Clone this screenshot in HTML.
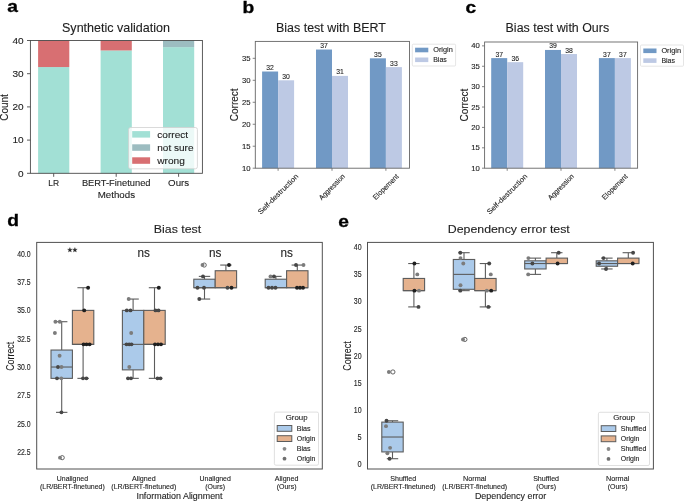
<!DOCTYPE html>
<html><head><meta charset="utf-8"><style>
html,body{margin:0;padding:0;background:#fff;}
svg{display:block;will-change:transform;font-family:"Liberation Sans", sans-serif;}
text{stroke:#1e1e1e;stroke-width:0.12px;}
</style></head><body>
<svg width="685" height="502" viewBox="0 0 685 502">
<text transform="translate(7.30 12.20) scale(1.2 1)" x="0" y="0" font-size="16" font-weight="bold" fill="#000" style="stroke:#000;stroke-width:0.3px">a</text>
<text transform="translate(242.60 13.00) scale(1.2 1)" x="0" y="0" font-size="16" font-weight="bold" fill="#000" style="stroke:#000;stroke-width:0.3px">b</text>
<text transform="translate(465.60 12.90) scale(1.2 1)" x="0" y="0" font-size="16" font-weight="bold" fill="#000" style="stroke:#000;stroke-width:0.3px">c</text>
<text transform="translate(7.20 226.40) scale(1.2 1)" x="0" y="0" font-size="16" font-weight="bold" fill="#000" style="stroke:#000;stroke-width:0.3px">d</text>
<text transform="translate(338.20 226.70) scale(1.2 1)" x="0" y="0" font-size="16" font-weight="bold" fill="#000" style="stroke:#000;stroke-width:0.3px">e</text>
<rect x="38.10" y="67.06" width="31.20" height="106.24" fill="#a2e0d5" stroke="none" stroke-width="0" />
<rect x="38.10" y="40.50" width="31.20" height="26.56" fill="#d86f72" stroke="none" stroke-width="0" />
<rect x="100.60" y="50.46" width="31.20" height="122.84" fill="#a2e0d5" stroke="none" stroke-width="0" />
<rect x="100.60" y="40.50" width="31.20" height="9.96" fill="#d86f72" stroke="none" stroke-width="0" />
<rect x="163.00" y="47.14" width="31.20" height="126.16" fill="#a2e0d5" stroke="none" stroke-width="0" />
<rect x="163.00" y="40.50" width="31.20" height="6.64" fill="#9cbcc0" stroke="none" stroke-width="0" />
<rect x="128.60" y="127.50" width="68.80" height="41.30" fill="rgba(255,255,255,0.8)" stroke="#d0d0d0" stroke-width="0.8" rx="2"/>
<rect x="132.20" y="131.10" width="17.90" height="6.50" fill="#a2e0d5" stroke="none" stroke-width="0" />
<rect x="132.20" y="144.30" width="17.90" height="6.50" fill="#9cbcc0" stroke="none" stroke-width="0" />
<rect x="132.20" y="157.30" width="17.90" height="6.50" fill="#d86f72" stroke="none" stroke-width="0" />
<text x="157.30" y="137.70" font-size="9.7" fill="#1e1e1e" textLength="30.80" lengthAdjust="spacingAndGlyphs" >correct</text>
<text x="157.30" y="150.70" font-size="9.7" fill="#1e1e1e" textLength="36.20" lengthAdjust="spacingAndGlyphs" >not sure</text>
<text x="157.30" y="163.60" font-size="9.7" fill="#1e1e1e" textLength="27.60" lengthAdjust="spacingAndGlyphs" >wrong</text>
<rect x="30.40" y="40.50" width="172.00" height="132.80" fill="none" stroke="#4a4a4a" stroke-width="0.9"/>
<line x1="27.00" y1="173.30" x2="30.40" y2="173.30" stroke="#4a4a4a" stroke-width="0.9" />
<text x="23.70" y="176.50" font-size="9.2" fill="#1e1e1e" text-anchor="end" textLength="5.60" lengthAdjust="spacingAndGlyphs" >0</text>
<line x1="27.00" y1="140.10" x2="30.40" y2="140.10" stroke="#4a4a4a" stroke-width="0.9" />
<text x="23.70" y="143.30" font-size="9.2" fill="#1e1e1e" text-anchor="end" textLength="11.20" lengthAdjust="spacingAndGlyphs" >10</text>
<line x1="27.00" y1="106.90" x2="30.40" y2="106.90" stroke="#4a4a4a" stroke-width="0.9" />
<text x="23.70" y="110.10" font-size="9.2" fill="#1e1e1e" text-anchor="end" textLength="11.20" lengthAdjust="spacingAndGlyphs" >20</text>
<line x1="27.00" y1="73.70" x2="30.40" y2="73.70" stroke="#4a4a4a" stroke-width="0.9" />
<text x="23.70" y="76.90" font-size="9.2" fill="#1e1e1e" text-anchor="end" textLength="11.20" lengthAdjust="spacingAndGlyphs" >30</text>
<line x1="27.00" y1="40.50" x2="30.40" y2="40.50" stroke="#4a4a4a" stroke-width="0.9" />
<text x="23.70" y="43.70" font-size="9.2" fill="#1e1e1e" text-anchor="end" textLength="11.20" lengthAdjust="spacingAndGlyphs" >40</text>
<line x1="53.70" y1="173.30" x2="53.70" y2="176.80" stroke="#4a4a4a" stroke-width="0.9" />
<text x="53.70" y="186.30" font-size="9.7" fill="#1e1e1e" text-anchor="middle" textLength="10.80" lengthAdjust="spacingAndGlyphs" >LR</text>
<line x1="116.20" y1="173.30" x2="116.20" y2="176.80" stroke="#4a4a4a" stroke-width="0.9" />
<text x="116.20" y="186.30" font-size="9.7" fill="#1e1e1e" text-anchor="middle" textLength="68.60" lengthAdjust="spacingAndGlyphs" >BERT-Finetuned</text>
<line x1="178.60" y1="173.30" x2="178.60" y2="176.80" stroke="#4a4a4a" stroke-width="0.9" />
<text x="178.60" y="186.30" font-size="9.7" fill="#1e1e1e" text-anchor="middle" textLength="21.00" lengthAdjust="spacingAndGlyphs" >Ours</text>
<text x="116.40" y="198.30" font-size="9.7" fill="#1e1e1e" text-anchor="middle" textLength="37.30" lengthAdjust="spacingAndGlyphs" >Methods</text>
<text x="8.20" y="107.50" font-size="10.8" fill="#1e1e1e" text-anchor="middle" textLength="26.60" lengthAdjust="spacingAndGlyphs" transform="rotate(-90 8.20 107.50)" >Count</text>
<text x="116.00" y="31.80" font-size="12.8" fill="#1e1e1e" text-anchor="middle" textLength="108.00" lengthAdjust="spacingAndGlyphs" >Synthetic validation</text>
<rect x="262.10" y="71.51" width="16.00" height="96.69" fill="#7199c5" stroke="none" stroke-width="0" />
<rect x="278.10" y="80.30" width="16.00" height="87.90" fill="#bdc9e4" stroke="none" stroke-width="0" />
<text x="270.10" y="70.01" font-size="7.4" fill="#1e1e1e" text-anchor="middle" textLength="7.60" lengthAdjust="spacingAndGlyphs" >32</text>
<text x="286.10" y="78.80" font-size="7.4" fill="#1e1e1e" text-anchor="middle" textLength="7.60" lengthAdjust="spacingAndGlyphs" >30</text>
<rect x="316.00" y="49.53" width="16.00" height="118.67" fill="#7199c5" stroke="none" stroke-width="0" />
<rect x="332.00" y="75.90" width="16.00" height="92.30" fill="#bdc9e4" stroke="none" stroke-width="0" />
<text x="324.00" y="48.03" font-size="7.4" fill="#1e1e1e" text-anchor="middle" textLength="7.60" lengthAdjust="spacingAndGlyphs" >37</text>
<text x="340.00" y="74.40" font-size="7.4" fill="#1e1e1e" text-anchor="middle" textLength="7.60" lengthAdjust="spacingAndGlyphs" >31</text>
<rect x="369.90" y="58.32" width="16.00" height="109.88" fill="#7199c5" stroke="none" stroke-width="0" />
<rect x="385.90" y="67.11" width="16.00" height="101.09" fill="#bdc9e4" stroke="none" stroke-width="0" />
<text x="377.90" y="56.82" font-size="7.4" fill="#1e1e1e" text-anchor="middle" textLength="7.60" lengthAdjust="spacingAndGlyphs" >35</text>
<text x="393.90" y="65.61" font-size="7.4" fill="#1e1e1e" text-anchor="middle" textLength="7.60" lengthAdjust="spacingAndGlyphs" >33</text>
<rect x="255.30" y="41.40" width="154.20" height="126.80" fill="none" stroke="#666666" stroke-width="0.9"/>
<line x1="252.70" y1="168.20" x2="255.30" y2="168.20" stroke="#666666" stroke-width="0.8" />
<text x="250.50" y="170.70" font-size="7.4" fill="#1e1e1e" text-anchor="end" textLength="8.60" lengthAdjust="spacingAndGlyphs" >10</text>
<line x1="252.70" y1="146.22" x2="255.30" y2="146.22" stroke="#666666" stroke-width="0.8" />
<text x="250.50" y="148.72" font-size="7.4" fill="#1e1e1e" text-anchor="end" textLength="8.60" lengthAdjust="spacingAndGlyphs" >15</text>
<line x1="252.70" y1="124.25" x2="255.30" y2="124.25" stroke="#666666" stroke-width="0.8" />
<text x="250.50" y="126.75" font-size="7.4" fill="#1e1e1e" text-anchor="end" textLength="8.60" lengthAdjust="spacingAndGlyphs" >20</text>
<line x1="252.70" y1="102.27" x2="255.30" y2="102.27" stroke="#666666" stroke-width="0.8" />
<text x="250.50" y="104.77" font-size="7.4" fill="#1e1e1e" text-anchor="end" textLength="8.60" lengthAdjust="spacingAndGlyphs" >25</text>
<line x1="252.70" y1="80.30" x2="255.30" y2="80.30" stroke="#666666" stroke-width="0.8" />
<text x="250.50" y="82.80" font-size="7.4" fill="#1e1e1e" text-anchor="end" textLength="8.60" lengthAdjust="spacingAndGlyphs" >30</text>
<line x1="252.70" y1="58.32" x2="255.30" y2="58.32" stroke="#666666" stroke-width="0.8" />
<text x="250.50" y="60.82" font-size="7.4" fill="#1e1e1e" text-anchor="end" textLength="8.60" lengthAdjust="spacingAndGlyphs" >35</text>
<line x1="278.10" y1="168.20" x2="278.10" y2="170.80" stroke="#666666" stroke-width="0.8" />
<g transform="translate(278.10 194.19) rotate(-45)"><text x="0" y="2.3" font-size="7.2" fill="#1e1e1e" text-anchor="middle" textLength="53.70" lengthAdjust="spacingAndGlyphs">Self-destruction</text></g>
<line x1="332.00" y1="168.20" x2="332.00" y2="170.80" stroke="#666666" stroke-width="0.8" />
<g transform="translate(332.00 187.04) rotate(-45)"><text x="0" y="2.3" font-size="7.2" fill="#1e1e1e" text-anchor="middle" textLength="33.50" lengthAdjust="spacingAndGlyphs">Aggression</text></g>
<line x1="385.90" y1="168.20" x2="385.90" y2="170.80" stroke="#666666" stroke-width="0.8" />
<g transform="translate(385.90 186.87) rotate(-45)"><text x="0" y="2.3" font-size="7.2" fill="#1e1e1e" text-anchor="middle" textLength="33.00" lengthAdjust="spacingAndGlyphs">Elopement</text></g>
<text x="238.40" y="104.80" font-size="10.6" fill="#1e1e1e" text-anchor="middle" textLength="32.80" lengthAdjust="spacingAndGlyphs" transform="rotate(-90 238.40 104.80)" >Correct</text>
<text x="330.95" y="32.30" font-size="12.5" fill="#1e1e1e" text-anchor="middle" textLength="109.90" lengthAdjust="spacingAndGlyphs" >Bias test with BERT</text>
<rect x="412.30" y="44.20" width="43.30" height="21.80" fill="#fff" stroke="#dedede" stroke-width="0.8" rx="1"/>
<rect x="415.10" y="47.70" width="13.20" height="4.60" fill="#7199c5" stroke="none" stroke-width="0" />
<rect x="415.10" y="57.50" width="13.20" height="4.60" fill="#bdc9e4" stroke="none" stroke-width="0" />
<text x="433.20" y="52.30" font-size="7.4" fill="#1e1e1e" textLength="19.60" lengthAdjust="spacingAndGlyphs" >Origin</text>
<text x="433.20" y="62.10" font-size="7.4" fill="#1e1e1e" textLength="13.60" lengthAdjust="spacingAndGlyphs" >Bias</text>
<rect x="491.20" y="58.11" width="16.00" height="110.09" fill="#7199c5" stroke="none" stroke-width="0" />
<rect x="507.20" y="62.18" width="16.00" height="106.02" fill="#bdc9e4" stroke="none" stroke-width="0" />
<text x="499.20" y="56.61" font-size="7.4" fill="#1e1e1e" text-anchor="middle" textLength="7.60" lengthAdjust="spacingAndGlyphs" >37</text>
<text x="515.20" y="60.68" font-size="7.4" fill="#1e1e1e" text-anchor="middle" textLength="7.60" lengthAdjust="spacingAndGlyphs" >36</text>
<rect x="545.00" y="49.95" width="16.00" height="118.25" fill="#7199c5" stroke="none" stroke-width="0" />
<rect x="561.00" y="54.03" width="16.00" height="114.17" fill="#bdc9e4" stroke="none" stroke-width="0" />
<text x="553.00" y="48.45" font-size="7.4" fill="#1e1e1e" text-anchor="middle" textLength="7.60" lengthAdjust="spacingAndGlyphs" >39</text>
<text x="569.00" y="52.53" font-size="7.4" fill="#1e1e1e" text-anchor="middle" textLength="7.60" lengthAdjust="spacingAndGlyphs" >38</text>
<rect x="598.90" y="58.11" width="16.00" height="110.09" fill="#7199c5" stroke="none" stroke-width="0" />
<rect x="614.90" y="58.11" width="16.00" height="110.09" fill="#bdc9e4" stroke="none" stroke-width="0" />
<text x="606.90" y="56.61" font-size="7.4" fill="#1e1e1e" text-anchor="middle" textLength="7.60" lengthAdjust="spacingAndGlyphs" >37</text>
<text x="622.90" y="56.61" font-size="7.4" fill="#1e1e1e" text-anchor="middle" textLength="7.60" lengthAdjust="spacingAndGlyphs" >37</text>
<rect x="484.60" y="42.00" width="153.00" height="126.20" fill="none" stroke="#666666" stroke-width="0.9"/>
<line x1="482.00" y1="168.20" x2="484.60" y2="168.20" stroke="#666666" stroke-width="0.8" />
<text x="479.80" y="170.70" font-size="7.4" fill="#1e1e1e" text-anchor="end" textLength="8.60" lengthAdjust="spacingAndGlyphs" >10</text>
<line x1="482.00" y1="147.81" x2="484.60" y2="147.81" stroke="#666666" stroke-width="0.8" />
<text x="479.80" y="150.31" font-size="7.4" fill="#1e1e1e" text-anchor="end" textLength="8.60" lengthAdjust="spacingAndGlyphs" >15</text>
<line x1="482.00" y1="127.42" x2="484.60" y2="127.42" stroke="#666666" stroke-width="0.8" />
<text x="479.80" y="129.92" font-size="7.4" fill="#1e1e1e" text-anchor="end" textLength="8.60" lengthAdjust="spacingAndGlyphs" >20</text>
<line x1="482.00" y1="107.04" x2="484.60" y2="107.04" stroke="#666666" stroke-width="0.8" />
<text x="479.80" y="109.54" font-size="7.4" fill="#1e1e1e" text-anchor="end" textLength="8.60" lengthAdjust="spacingAndGlyphs" >25</text>
<line x1="482.00" y1="86.65" x2="484.60" y2="86.65" stroke="#666666" stroke-width="0.8" />
<text x="479.80" y="89.15" font-size="7.4" fill="#1e1e1e" text-anchor="end" textLength="8.60" lengthAdjust="spacingAndGlyphs" >30</text>
<line x1="482.00" y1="66.26" x2="484.60" y2="66.26" stroke="#666666" stroke-width="0.8" />
<text x="479.80" y="68.76" font-size="7.4" fill="#1e1e1e" text-anchor="end" textLength="8.60" lengthAdjust="spacingAndGlyphs" >35</text>
<line x1="482.00" y1="45.87" x2="484.60" y2="45.87" stroke="#666666" stroke-width="0.8" />
<text x="479.80" y="48.37" font-size="7.4" fill="#1e1e1e" text-anchor="end" textLength="8.60" lengthAdjust="spacingAndGlyphs" >40</text>
<line x1="507.20" y1="168.20" x2="507.20" y2="170.80" stroke="#666666" stroke-width="0.8" />
<g transform="translate(507.20 194.19) rotate(-45)"><text x="0" y="2.3" font-size="7.2" fill="#1e1e1e" text-anchor="middle" textLength="53.70" lengthAdjust="spacingAndGlyphs">Self-destruction</text></g>
<line x1="561.00" y1="168.20" x2="561.00" y2="170.80" stroke="#666666" stroke-width="0.8" />
<g transform="translate(561.00 187.04) rotate(-45)"><text x="0" y="2.3" font-size="7.2" fill="#1e1e1e" text-anchor="middle" textLength="33.50" lengthAdjust="spacingAndGlyphs">Aggression</text></g>
<line x1="614.90" y1="168.20" x2="614.90" y2="170.80" stroke="#666666" stroke-width="0.8" />
<g transform="translate(614.90 186.87) rotate(-45)"><text x="0" y="2.3" font-size="7.2" fill="#1e1e1e" text-anchor="middle" textLength="33.00" lengthAdjust="spacingAndGlyphs">Elopement</text></g>
<text x="467.70" y="105.10" font-size="10.6" fill="#1e1e1e" text-anchor="middle" textLength="32.80" lengthAdjust="spacingAndGlyphs" transform="rotate(-90 467.70 105.10)" >Correct</text>
<text x="557.35" y="32.30" font-size="12.5" fill="#1e1e1e" text-anchor="middle" textLength="103.50" lengthAdjust="spacingAndGlyphs" >Bias test with Ours</text>
<rect x="640.50" y="45.00" width="43.00" height="21.20" fill="#fff" stroke="#dedede" stroke-width="0.8" rx="1"/>
<rect x="643.30" y="48.50" width="13.20" height="4.60" fill="#7199c5" stroke="none" stroke-width="0" />
<rect x="643.30" y="58.30" width="13.20" height="4.60" fill="#bdc9e4" stroke="none" stroke-width="0" />
<text x="661.40" y="53.10" font-size="7.4" fill="#1e1e1e" textLength="19.60" lengthAdjust="spacingAndGlyphs" >Origin</text>
<text x="661.40" y="62.90" font-size="7.4" fill="#1e1e1e" textLength="13.60" lengthAdjust="spacingAndGlyphs" >Bias</text>
<line x1="61.70" y1="378.36" x2="61.70" y2="412.35" stroke="#5c5c5c" stroke-width="1.1" />
<line x1="56.00" y1="412.35" x2="67.40" y2="412.35" stroke="#5c5c5c" stroke-width="1.1" />
<line x1="61.70" y1="350.04" x2="61.70" y2="321.71" stroke="#5c5c5c" stroke-width="1.1" />
<line x1="56.00" y1="321.71" x2="67.40" y2="321.71" stroke="#5c5c5c" stroke-width="1.1" />
<rect x="51.00" y="350.04" width="21.40" height="28.32" fill="#abcaea" stroke="#5c5c5c" stroke-width="1.1" />
<line x1="51.00" y1="367.03" x2="72.40" y2="367.03" stroke="#5c5c5c" stroke-width="1.1" />
<line x1="83.10" y1="344.37" x2="83.10" y2="378.36" stroke="#5c5c5c" stroke-width="1.1" />
<line x1="77.40" y1="378.36" x2="88.80" y2="378.36" stroke="#5c5c5c" stroke-width="1.1" />
<line x1="83.10" y1="310.38" x2="83.10" y2="287.72" stroke="#5c5c5c" stroke-width="1.1" />
<line x1="77.40" y1="287.72" x2="88.80" y2="287.72" stroke="#5c5c5c" stroke-width="1.1" />
<rect x="72.40" y="310.38" width="21.40" height="33.99" fill="#e5b28e" stroke="#5c5c5c" stroke-width="1.1" />
<line x1="72.40" y1="344.37" x2="93.80" y2="344.37" stroke="#5c5c5c" stroke-width="1.1" />
<line x1="133.10" y1="369.86" x2="133.10" y2="378.36" stroke="#5c5c5c" stroke-width="1.1" />
<line x1="127.40" y1="378.36" x2="138.80" y2="378.36" stroke="#5c5c5c" stroke-width="1.1" />
<line x1="133.10" y1="310.38" x2="133.10" y2="299.05" stroke="#5c5c5c" stroke-width="1.1" />
<line x1="127.40" y1="299.05" x2="138.80" y2="299.05" stroke="#5c5c5c" stroke-width="1.1" />
<rect x="122.40" y="310.38" width="21.40" height="59.48" fill="#abcaea" stroke="#5c5c5c" stroke-width="1.1" />
<line x1="122.40" y1="344.37" x2="143.80" y2="344.37" stroke="#5c5c5c" stroke-width="1.1" />
<line x1="154.50" y1="344.37" x2="154.50" y2="378.36" stroke="#5c5c5c" stroke-width="1.1" />
<line x1="148.80" y1="378.36" x2="160.20" y2="378.36" stroke="#5c5c5c" stroke-width="1.1" />
<line x1="154.50" y1="310.38" x2="154.50" y2="287.72" stroke="#5c5c5c" stroke-width="1.1" />
<line x1="148.80" y1="287.72" x2="160.20" y2="287.72" stroke="#5c5c5c" stroke-width="1.1" />
<rect x="143.80" y="310.38" width="21.40" height="33.99" fill="#e5b28e" stroke="#5c5c5c" stroke-width="1.1" />
<line x1="143.80" y1="344.37" x2="165.20" y2="344.37" stroke="#5c5c5c" stroke-width="1.1" />
<line x1="204.50" y1="287.72" x2="204.50" y2="299.05" stroke="#5c5c5c" stroke-width="1.1" />
<line x1="198.80" y1="299.05" x2="210.20" y2="299.05" stroke="#5c5c5c" stroke-width="1.1" />
<line x1="204.50" y1="279.22" x2="204.50" y2="276.39" stroke="#5c5c5c" stroke-width="1.1" />
<line x1="198.80" y1="276.39" x2="210.20" y2="276.39" stroke="#5c5c5c" stroke-width="1.1" />
<rect x="193.80" y="279.22" width="21.40" height="8.50" fill="#abcaea" stroke="#5c5c5c" stroke-width="1.1" />
<line x1="193.80" y1="287.72" x2="215.20" y2="287.72" stroke="#5c5c5c" stroke-width="1.1" />
<line x1="225.90" y1="270.73" x2="225.90" y2="265.06" stroke="#5c5c5c" stroke-width="1.1" />
<line x1="220.20" y1="265.06" x2="231.60" y2="265.06" stroke="#5c5c5c" stroke-width="1.1" />
<rect x="215.20" y="270.73" width="21.40" height="17.00" fill="#e5b28e" stroke="#5c5c5c" stroke-width="1.1" />
<line x1="215.20" y1="287.72" x2="236.60" y2="287.72" stroke="#5c5c5c" stroke-width="1.1" />
<line x1="275.90" y1="279.22" x2="275.90" y2="276.39" stroke="#5c5c5c" stroke-width="1.1" />
<line x1="270.20" y1="276.39" x2="281.60" y2="276.39" stroke="#5c5c5c" stroke-width="1.1" />
<rect x="265.20" y="279.22" width="21.40" height="8.50" fill="#abcaea" stroke="#5c5c5c" stroke-width="1.1" />
<line x1="265.20" y1="287.72" x2="286.60" y2="287.72" stroke="#5c5c5c" stroke-width="1.1" />
<line x1="297.30" y1="270.73" x2="297.30" y2="265.06" stroke="#5c5c5c" stroke-width="1.1" />
<line x1="291.60" y1="265.06" x2="303.00" y2="265.06" stroke="#5c5c5c" stroke-width="1.1" />
<rect x="286.60" y="270.73" width="21.40" height="17.00" fill="#e5b28e" stroke="#5c5c5c" stroke-width="1.1" />
<line x1="286.60" y1="287.72" x2="308.00" y2="287.72" stroke="#5c5c5c" stroke-width="1.1" />
<circle cx="62.20" cy="457.67" r="2.10" fill="none" stroke="#555555" stroke-width="0.9" />
<circle cx="204.20" cy="265.06" r="2.10" fill="none" stroke="#555555" stroke-width="0.9" />
<circle cx="55.40" cy="321.71" r="1.95" fill="#7c7c7c" stroke="none" stroke-width="0" />
<circle cx="59.80" cy="321.71" r="1.95" fill="#7c7c7c" stroke="none" stroke-width="0" />
<circle cx="54.90" cy="333.04" r="1.95" fill="#7c7c7c" stroke="none" stroke-width="0" />
<circle cx="59.60" cy="355.70" r="1.95" fill="#7c7c7c" stroke="none" stroke-width="0" />
<circle cx="58.00" cy="367.03" r="1.95" fill="#474747" stroke="none" stroke-width="0" />
<circle cx="61.50" cy="367.03" r="1.95" fill="#7c7c7c" stroke="none" stroke-width="0" />
<circle cx="57.00" cy="378.36" r="1.95" fill="#474747" stroke="none" stroke-width="0" />
<circle cx="61.30" cy="378.36" r="1.95" fill="#7c7c7c" stroke="none" stroke-width="0" />
<circle cx="61.40" cy="412.35" r="1.95" fill="#474747" stroke="none" stroke-width="0" />
<circle cx="60.00" cy="457.67" r="1.95" fill="#7c7c7c" stroke="none" stroke-width="0" />
<circle cx="128.70" cy="299.05" r="1.95" fill="#7c7c7c" stroke="none" stroke-width="0" />
<circle cx="126.80" cy="310.38" r="1.95" fill="#474747" stroke="none" stroke-width="0" />
<circle cx="130.50" cy="310.38" r="1.95" fill="#474747" stroke="none" stroke-width="0" />
<circle cx="131.20" cy="333.04" r="1.95" fill="#7c7c7c" stroke="none" stroke-width="0" />
<circle cx="129.30" cy="367.03" r="1.95" fill="#7c7c7c" stroke="none" stroke-width="0" />
<circle cx="128.00" cy="378.36" r="1.95" fill="#474747" stroke="none" stroke-width="0" />
<circle cx="131.00" cy="378.36" r="1.95" fill="#474747" stroke="none" stroke-width="0" />
<circle cx="126.50" cy="344.37" r="1.95" fill="#474747" stroke="none" stroke-width="0" />
<circle cx="129.20" cy="344.37" r="1.95" fill="#474747" stroke="none" stroke-width="0" />
<circle cx="131.50" cy="344.37" r="1.95" fill="#474747" stroke="none" stroke-width="0" />
<circle cx="203.00" cy="276.39" r="1.95" fill="#474747" stroke="none" stroke-width="0" />
<circle cx="202.50" cy="265.06" r="1.95" fill="#7c7c7c" stroke="none" stroke-width="0" />
<circle cx="197.50" cy="287.72" r="1.95" fill="#474747" stroke="none" stroke-width="0" />
<circle cx="204.00" cy="287.72" r="1.95" fill="#474747" stroke="none" stroke-width="0" />
<circle cx="199.30" cy="299.05" r="1.95" fill="#474747" stroke="none" stroke-width="0" />
<circle cx="270.50" cy="276.39" r="1.95" fill="#7c7c7c" stroke="none" stroke-width="0" />
<circle cx="274.00" cy="276.39" r="1.95" fill="#474747" stroke="none" stroke-width="0" />
<circle cx="268.50" cy="287.72" r="1.95" fill="#474747" stroke="none" stroke-width="0" />
<circle cx="272.00" cy="287.72" r="1.95" fill="#474747" stroke="none" stroke-width="0" />
<circle cx="275.50" cy="287.72" r="1.95" fill="#474747" stroke="none" stroke-width="0" />
<circle cx="88.10" cy="287.72" r="1.95" fill="#1f1f1f" stroke="none" stroke-width="0" />
<circle cx="84.20" cy="310.38" r="1.95" fill="#1f1f1f" stroke="none" stroke-width="0" />
<circle cx="83.60" cy="344.37" r="1.95" fill="#1f1f1f" stroke="none" stroke-width="0" />
<circle cx="86.50" cy="344.37" r="1.95" fill="#1f1f1f" stroke="none" stroke-width="0" />
<circle cx="89.60" cy="344.37" r="1.95" fill="#1f1f1f" stroke="none" stroke-width="0" />
<circle cx="83.00" cy="378.36" r="1.95" fill="#474747" stroke="none" stroke-width="0" />
<circle cx="86.40" cy="378.36" r="1.95" fill="#474747" stroke="none" stroke-width="0" />
<circle cx="158.80" cy="287.72" r="1.95" fill="#1f1f1f" stroke="none" stroke-width="0" />
<circle cx="155.50" cy="310.38" r="1.95" fill="#474747" stroke="none" stroke-width="0" />
<circle cx="158.50" cy="310.38" r="1.95" fill="#474747" stroke="none" stroke-width="0" />
<circle cx="155.00" cy="344.37" r="1.95" fill="#1f1f1f" stroke="none" stroke-width="0" />
<circle cx="158.00" cy="344.37" r="1.95" fill="#1f1f1f" stroke="none" stroke-width="0" />
<circle cx="161.00" cy="344.37" r="1.95" fill="#1f1f1f" stroke="none" stroke-width="0" />
<circle cx="157.50" cy="378.36" r="1.95" fill="#474747" stroke="none" stroke-width="0" />
<circle cx="160.50" cy="378.36" r="1.95" fill="#474747" stroke="none" stroke-width="0" />
<circle cx="229.00" cy="265.06" r="1.95" fill="#1f1f1f" stroke="none" stroke-width="0" />
<circle cx="227.50" cy="287.72" r="1.95" fill="#474747" stroke="none" stroke-width="0" />
<circle cx="231.50" cy="287.72" r="1.95" fill="#1f1f1f" stroke="none" stroke-width="0" />
<circle cx="296.00" cy="265.06" r="1.95" fill="#474747" stroke="none" stroke-width="0" />
<circle cx="303.50" cy="265.06" r="1.95" fill="#7c7c7c" stroke="none" stroke-width="0" />
<circle cx="297.00" cy="287.72" r="1.95" fill="#1f1f1f" stroke="none" stroke-width="0" />
<circle cx="300.00" cy="287.72" r="1.95" fill="#1f1f1f" stroke="none" stroke-width="0" />
<circle cx="303.00" cy="287.72" r="1.95" fill="#1f1f1f" stroke="none" stroke-width="0" />
<rect x="36.70" y="242.40" width="285.60" height="226.60" fill="none" stroke="#505050" stroke-width="1.0"/>
<text x="30.60" y="455.00" font-size="8.6" fill="#1e1e1e" text-anchor="end" textLength="13.40" lengthAdjust="spacingAndGlyphs" >22.5</text>
<text x="30.60" y="426.68" font-size="8.6" fill="#1e1e1e" text-anchor="end" textLength="13.40" lengthAdjust="spacingAndGlyphs" >25.0</text>
<text x="30.60" y="398.36" font-size="8.6" fill="#1e1e1e" text-anchor="end" textLength="13.40" lengthAdjust="spacingAndGlyphs" >27.5</text>
<text x="30.60" y="370.03" font-size="8.6" fill="#1e1e1e" text-anchor="end" textLength="13.40" lengthAdjust="spacingAndGlyphs" >30.0</text>
<text x="30.60" y="341.70" font-size="8.6" fill="#1e1e1e" text-anchor="end" textLength="13.40" lengthAdjust="spacingAndGlyphs" >32.5</text>
<text x="30.60" y="313.38" font-size="8.6" fill="#1e1e1e" text-anchor="end" textLength="13.40" lengthAdjust="spacingAndGlyphs" >35.0</text>
<text x="30.60" y="285.06" font-size="8.6" fill="#1e1e1e" text-anchor="end" textLength="13.40" lengthAdjust="spacingAndGlyphs" >37.5</text>
<text x="30.60" y="256.73" font-size="8.6" fill="#1e1e1e" text-anchor="end" textLength="13.40" lengthAdjust="spacingAndGlyphs" >40.0</text>
<polygon points="69.90,247.55 70.52,249.15 72.23,249.24 70.90,250.32 71.34,251.98 69.90,251.05 68.46,251.98 68.90,250.32 67.57,249.24 69.28,249.15" fill="#262626" stroke="#262626" stroke-width="0.3"/>
<polygon points="74.90,247.55 75.52,249.15 77.23,249.24 75.90,250.32 76.34,251.98 74.90,251.05 73.46,251.98 73.90,250.32 72.57,249.24 74.28,249.15" fill="#262626" stroke="#262626" stroke-width="0.3"/>
<text x="143.80" y="257.00" font-size="13.5" fill="#1e1e1e" text-anchor="middle" textLength="12.40" lengthAdjust="spacingAndGlyphs" >ns</text>
<text x="215.20" y="257.00" font-size="13.5" fill="#1e1e1e" text-anchor="middle" textLength="12.40" lengthAdjust="spacingAndGlyphs" >ns</text>
<text x="286.60" y="257.00" font-size="13.5" fill="#1e1e1e" text-anchor="middle" textLength="12.40" lengthAdjust="spacingAndGlyphs" >ns</text>
<text x="72.40" y="480.80" font-size="7.6" fill="#1e1e1e" text-anchor="middle" textLength="31.30" lengthAdjust="spacingAndGlyphs" >Unaligned</text>
<text x="72.40" y="488.60" font-size="7.6" fill="#1e1e1e" text-anchor="middle" textLength="64.90" lengthAdjust="spacingAndGlyphs" >(LR/BERT-finetuned)</text>
<text x="143.80" y="480.80" font-size="7.6" fill="#1e1e1e" text-anchor="middle" textLength="23.70" lengthAdjust="spacingAndGlyphs" >Aligned</text>
<text x="143.80" y="488.60" font-size="7.6" fill="#1e1e1e" text-anchor="middle" textLength="64.90" lengthAdjust="spacingAndGlyphs" >(LR/BERT-finetuned)</text>
<text x="215.20" y="480.80" font-size="7.6" fill="#1e1e1e" text-anchor="middle" textLength="31.30" lengthAdjust="spacingAndGlyphs" >Unaligned</text>
<text x="215.20" y="488.60" font-size="7.6" fill="#1e1e1e" text-anchor="middle" textLength="19.80" lengthAdjust="spacingAndGlyphs" >(Ours)</text>
<text x="286.60" y="480.80" font-size="7.6" fill="#1e1e1e" text-anchor="middle" textLength="23.70" lengthAdjust="spacingAndGlyphs" >Aligned</text>
<text x="286.60" y="488.60" font-size="7.6" fill="#1e1e1e" text-anchor="middle" textLength="19.80" lengthAdjust="spacingAndGlyphs" >(Ours)</text>
<text x="179.50" y="498.80" font-size="9.4" fill="#1e1e1e" text-anchor="middle" textLength="86.10" lengthAdjust="spacingAndGlyphs" >Information Alignment</text>
<text x="14.00" y="356.30" font-size="10.4" fill="#1e1e1e" text-anchor="middle" textLength="29.00" lengthAdjust="spacingAndGlyphs" transform="rotate(-90 14.00 356.30)" >Correct</text>
<text x="177.50" y="232.70" font-size="11.4" fill="#1e1e1e" text-anchor="middle" textLength="47.30" lengthAdjust="spacingAndGlyphs" >Bias test</text>
<rect x="274.40" y="412.10" width="44.10" height="53.10" fill="#fff" stroke="#d8d8d8" stroke-width="0.8" rx="1.5"/>
<text x="296.65" y="420.20" font-size="8.0" fill="#1e1e1e" text-anchor="middle" textLength="21.80" lengthAdjust="spacingAndGlyphs" >Group</text>
<rect x="277.20" y="425.50" width="14.60" height="5.80" fill="#abcaea" stroke="#5c5c5c" stroke-width="1.0" />
<rect x="277.20" y="435.70" width="14.60" height="5.80" fill="#e5b28e" stroke="#5c5c5c" stroke-width="1.0" />
<circle cx="284.50" cy="448.80" r="1.90" fill="#8a8a8a" stroke="none" stroke-width="0" />
<circle cx="284.50" cy="458.70" r="1.90" fill="#707070" stroke="none" stroke-width="0" />
<text x="296.80" y="430.90" font-size="7.2" fill="#1e1e1e" textLength="13.80" lengthAdjust="spacingAndGlyphs" >Bias</text>
<text x="296.80" y="441.10" font-size="7.2" fill="#1e1e1e" textLength="18.60" lengthAdjust="spacingAndGlyphs" >Origin</text>
<text x="296.80" y="451.00" font-size="7.2" fill="#1e1e1e" textLength="13.80" lengthAdjust="spacingAndGlyphs" >Bias</text>
<text x="296.80" y="460.90" font-size="7.2" fill="#1e1e1e" textLength="18.60" lengthAdjust="spacingAndGlyphs" >Origin</text>
<line x1="392.50" y1="451.92" x2="392.50" y2="458.70" stroke="#5c5c5c" stroke-width="1.1" />
<line x1="386.80" y1="458.70" x2="398.20" y2="458.70" stroke="#5c5c5c" stroke-width="1.1" />
<line x1="392.50" y1="422.11" x2="392.50" y2="420.75" stroke="#5c5c5c" stroke-width="1.1" />
<line x1="386.80" y1="420.75" x2="398.20" y2="420.75" stroke="#5c5c5c" stroke-width="1.1" />
<rect x="381.80" y="422.11" width="21.40" height="29.82" fill="#abcaea" stroke="#5c5c5c" stroke-width="1.1" />
<line x1="381.80" y1="437.02" x2="403.20" y2="437.02" stroke="#5c5c5c" stroke-width="1.1" />
<line x1="413.90" y1="290.65" x2="413.90" y2="306.91" stroke="#5c5c5c" stroke-width="1.1" />
<line x1="408.20" y1="306.91" x2="419.60" y2="306.91" stroke="#5c5c5c" stroke-width="1.1" />
<line x1="413.90" y1="278.45" x2="413.90" y2="263.54" stroke="#5c5c5c" stroke-width="1.1" />
<line x1="408.20" y1="263.54" x2="419.60" y2="263.54" stroke="#5c5c5c" stroke-width="1.1" />
<rect x="403.20" y="278.45" width="21.40" height="12.20" fill="#e5b28e" stroke="#5c5c5c" stroke-width="1.1" />
<line x1="403.20" y1="290.65" x2="424.60" y2="290.65" stroke="#5c5c5c" stroke-width="1.1" />
<line x1="464.00" y1="289.29" x2="464.00" y2="290.65" stroke="#5c5c5c" stroke-width="1.1" />
<line x1="458.30" y1="290.65" x2="469.70" y2="290.65" stroke="#5c5c5c" stroke-width="1.1" />
<line x1="464.00" y1="259.48" x2="464.00" y2="252.70" stroke="#5c5c5c" stroke-width="1.1" />
<line x1="458.30" y1="252.70" x2="469.70" y2="252.70" stroke="#5c5c5c" stroke-width="1.1" />
<rect x="453.30" y="259.48" width="21.40" height="29.82" fill="#abcaea" stroke="#5c5c5c" stroke-width="1.1" />
<line x1="453.30" y1="274.38" x2="474.70" y2="274.38" stroke="#5c5c5c" stroke-width="1.1" />
<line x1="485.40" y1="290.65" x2="485.40" y2="306.91" stroke="#5c5c5c" stroke-width="1.1" />
<line x1="479.70" y1="306.91" x2="491.10" y2="306.91" stroke="#5c5c5c" stroke-width="1.1" />
<line x1="485.40" y1="278.45" x2="485.40" y2="263.54" stroke="#5c5c5c" stroke-width="1.1" />
<line x1="479.70" y1="263.54" x2="491.10" y2="263.54" stroke="#5c5c5c" stroke-width="1.1" />
<rect x="474.70" y="278.45" width="21.40" height="12.20" fill="#e5b28e" stroke="#5c5c5c" stroke-width="1.1" />
<line x1="474.70" y1="290.65" x2="496.10" y2="290.65" stroke="#5c5c5c" stroke-width="1.1" />
<line x1="535.40" y1="268.96" x2="535.40" y2="274.38" stroke="#5c5c5c" stroke-width="1.1" />
<line x1="529.70" y1="274.38" x2="541.10" y2="274.38" stroke="#5c5c5c" stroke-width="1.1" />
<line x1="535.40" y1="260.83" x2="535.40" y2="258.12" stroke="#5c5c5c" stroke-width="1.1" />
<line x1="529.70" y1="258.12" x2="541.10" y2="258.12" stroke="#5c5c5c" stroke-width="1.1" />
<rect x="524.70" y="260.83" width="21.40" height="8.13" fill="#abcaea" stroke="#5c5c5c" stroke-width="1.1" />
<line x1="524.70" y1="263.54" x2="546.10" y2="263.54" stroke="#5c5c5c" stroke-width="1.1" />
<line x1="556.80" y1="258.12" x2="556.80" y2="252.70" stroke="#5c5c5c" stroke-width="1.1" />
<line x1="551.10" y1="252.70" x2="562.50" y2="252.70" stroke="#5c5c5c" stroke-width="1.1" />
<rect x="546.10" y="258.12" width="21.40" height="5.42" fill="#e5b28e" stroke="#5c5c5c" stroke-width="1.1" />
<line x1="546.10" y1="263.54" x2="567.50" y2="263.54" stroke="#5c5c5c" stroke-width="1.1" />
<line x1="606.90" y1="266.25" x2="606.90" y2="268.96" stroke="#5c5c5c" stroke-width="1.1" />
<line x1="601.20" y1="268.96" x2="612.60" y2="268.96" stroke="#5c5c5c" stroke-width="1.1" />
<line x1="606.90" y1="260.83" x2="606.90" y2="258.12" stroke="#5c5c5c" stroke-width="1.1" />
<line x1="601.20" y1="258.12" x2="612.60" y2="258.12" stroke="#5c5c5c" stroke-width="1.1" />
<rect x="596.20" y="260.83" width="21.40" height="5.42" fill="#abcaea" stroke="#5c5c5c" stroke-width="1.1" />
<line x1="596.20" y1="263.54" x2="617.60" y2="263.54" stroke="#5c5c5c" stroke-width="1.1" />
<line x1="628.30" y1="258.12" x2="628.30" y2="252.70" stroke="#5c5c5c" stroke-width="1.1" />
<line x1="622.60" y1="252.70" x2="634.00" y2="252.70" stroke="#5c5c5c" stroke-width="1.1" />
<rect x="617.60" y="258.12" width="21.40" height="5.42" fill="#e5b28e" stroke="#5c5c5c" stroke-width="1.1" />
<line x1="617.60" y1="263.54" x2="639.00" y2="263.54" stroke="#5c5c5c" stroke-width="1.1" />
<circle cx="392.90" cy="371.96" r="2.10" fill="none" stroke="#555555" stroke-width="0.9" />
<circle cx="464.90" cy="339.44" r="2.10" fill="none" stroke="#555555" stroke-width="0.9" />
<circle cx="386.50" cy="420.75" r="1.95" fill="#474747" stroke="none" stroke-width="0" />
<circle cx="386.00" cy="426.17" r="1.95" fill="#7c7c7c" stroke="none" stroke-width="0" />
<circle cx="390.10" cy="447.86" r="1.95" fill="#7c7c7c" stroke="none" stroke-width="0" />
<circle cx="387.40" cy="453.28" r="1.95" fill="#7c7c7c" stroke="none" stroke-width="0" />
<circle cx="389.60" cy="458.70" r="1.95" fill="#474747" stroke="none" stroke-width="0" />
<circle cx="388.90" cy="371.96" r="1.95" fill="#7c7c7c" stroke="none" stroke-width="0" />
<circle cx="460.30" cy="252.70" r="1.95" fill="#474747" stroke="none" stroke-width="0" />
<circle cx="460.50" cy="258.12" r="1.95" fill="#7c7c7c" stroke="none" stroke-width="0" />
<circle cx="463.30" cy="263.54" r="1.95" fill="#7c7c7c" stroke="none" stroke-width="0" />
<circle cx="460.50" cy="285.23" r="1.95" fill="#7c7c7c" stroke="none" stroke-width="0" />
<circle cx="460.30" cy="290.65" r="1.95" fill="#474747" stroke="none" stroke-width="0" />
<circle cx="463.00" cy="339.44" r="1.95" fill="#7c7c7c" stroke="none" stroke-width="0" />
<circle cx="528.40" cy="258.12" r="1.95" fill="#7c7c7c" stroke="none" stroke-width="0" />
<circle cx="532.40" cy="263.54" r="1.95" fill="#474747" stroke="none" stroke-width="0" />
<circle cx="528.20" cy="274.38" r="1.95" fill="#7c7c7c" stroke="none" stroke-width="0" />
<circle cx="603.50" cy="258.12" r="1.95" fill="#474747" stroke="none" stroke-width="0" />
<circle cx="599.10" cy="263.54" r="1.95" fill="#474747" stroke="none" stroke-width="0" />
<circle cx="606.00" cy="268.96" r="1.95" fill="#474747" stroke="none" stroke-width="0" />
<circle cx="414.40" cy="263.54" r="1.95" fill="#1f1f1f" stroke="none" stroke-width="0" />
<circle cx="417.30" cy="274.38" r="1.95" fill="#7c7c7c" stroke="none" stroke-width="0" />
<circle cx="414.40" cy="290.65" r="1.95" fill="#1f1f1f" stroke="none" stroke-width="0" />
<circle cx="419.00" cy="290.65" r="1.95" fill="#7c7c7c" stroke="none" stroke-width="0" />
<circle cx="418.50" cy="306.91" r="1.95" fill="#474747" stroke="none" stroke-width="0" />
<circle cx="489.20" cy="263.54" r="1.95" fill="#474747" stroke="none" stroke-width="0" />
<circle cx="490.80" cy="274.38" r="1.95" fill="#7c7c7c" stroke="none" stroke-width="0" />
<circle cx="486.80" cy="290.65" r="1.95" fill="#7c7c7c" stroke="none" stroke-width="0" />
<circle cx="491.20" cy="290.65" r="1.95" fill="#1f1f1f" stroke="none" stroke-width="0" />
<circle cx="488.40" cy="306.91" r="1.95" fill="#474747" stroke="none" stroke-width="0" />
<circle cx="558.70" cy="252.70" r="1.95" fill="#474747" stroke="none" stroke-width="0" />
<circle cx="557.60" cy="263.54" r="1.95" fill="#1f1f1f" stroke="none" stroke-width="0" />
<circle cx="633.10" cy="252.70" r="1.95" fill="#474747" stroke="none" stroke-width="0" />
<circle cx="632.70" cy="263.54" r="1.95" fill="#1f1f1f" stroke="none" stroke-width="0" />
<rect x="367.50" y="242.40" width="285.90" height="226.60" fill="none" stroke="#505050" stroke-width="1.0"/>
<text x="361.60" y="467.12" font-size="8.6" fill="#1e1e1e" text-anchor="end" textLength="4.10" lengthAdjust="spacingAndGlyphs" >0</text>
<text x="361.60" y="440.02" font-size="8.6" fill="#1e1e1e" text-anchor="end" textLength="4.10" lengthAdjust="spacingAndGlyphs" >5</text>
<text x="361.60" y="412.91" font-size="8.6" fill="#1e1e1e" text-anchor="end" textLength="7.80" lengthAdjust="spacingAndGlyphs" >10</text>
<text x="361.60" y="385.81" font-size="8.6" fill="#1e1e1e" text-anchor="end" textLength="7.80" lengthAdjust="spacingAndGlyphs" >15</text>
<text x="361.60" y="358.70" font-size="8.6" fill="#1e1e1e" text-anchor="end" textLength="7.80" lengthAdjust="spacingAndGlyphs" >20</text>
<text x="361.60" y="331.59" font-size="8.6" fill="#1e1e1e" text-anchor="end" textLength="7.80" lengthAdjust="spacingAndGlyphs" >25</text>
<text x="361.60" y="304.49" font-size="8.6" fill="#1e1e1e" text-anchor="end" textLength="7.80" lengthAdjust="spacingAndGlyphs" >30</text>
<text x="361.60" y="277.38" font-size="8.6" fill="#1e1e1e" text-anchor="end" textLength="7.80" lengthAdjust="spacingAndGlyphs" >35</text>
<text x="361.60" y="250.28" font-size="8.6" fill="#1e1e1e" text-anchor="end" textLength="7.80" lengthAdjust="spacingAndGlyphs" >40</text>
<text x="403.20" y="480.80" font-size="7.6" fill="#1e1e1e" text-anchor="middle" textLength="25.90" lengthAdjust="spacingAndGlyphs" >Shuffled</text>
<text x="403.20" y="488.60" font-size="7.6" fill="#1e1e1e" text-anchor="middle" textLength="64.90" lengthAdjust="spacingAndGlyphs" >(LR/BERT-finetuned)</text>
<text x="474.70" y="480.80" font-size="7.6" fill="#1e1e1e" text-anchor="middle" textLength="23.40" lengthAdjust="spacingAndGlyphs" >Normal</text>
<text x="474.70" y="488.60" font-size="7.6" fill="#1e1e1e" text-anchor="middle" textLength="64.90" lengthAdjust="spacingAndGlyphs" >(LR/BERT-finetuned)</text>
<text x="546.10" y="480.80" font-size="7.6" fill="#1e1e1e" text-anchor="middle" textLength="25.90" lengthAdjust="spacingAndGlyphs" >Shuffled</text>
<text x="546.10" y="488.60" font-size="7.6" fill="#1e1e1e" text-anchor="middle" textLength="19.80" lengthAdjust="spacingAndGlyphs" >(Ours)</text>
<text x="617.60" y="480.80" font-size="7.6" fill="#1e1e1e" text-anchor="middle" textLength="23.40" lengthAdjust="spacingAndGlyphs" >Normal</text>
<text x="617.60" y="488.60" font-size="7.6" fill="#1e1e1e" text-anchor="middle" textLength="19.80" lengthAdjust="spacingAndGlyphs" >(Ours)</text>
<text x="510.60" y="498.60" font-size="9.4" fill="#1e1e1e" text-anchor="middle" textLength="71.30" lengthAdjust="spacingAndGlyphs" >Dependency error</text>
<text x="350.60" y="356.00" font-size="10.4" fill="#1e1e1e" text-anchor="middle" textLength="29.30" lengthAdjust="spacingAndGlyphs" transform="rotate(-90 350.60 356.00)" >Correct</text>
<text x="508.80" y="233.00" font-size="11.6" fill="#1e1e1e" text-anchor="middle" textLength="122.00" lengthAdjust="spacingAndGlyphs" >Dependency error test</text>
<rect x="598.40" y="412.30" width="51.10" height="53.20" fill="#fff" stroke="#d8d8d8" stroke-width="0.8" rx="1.5"/>
<text x="624.15" y="420.40" font-size="8.0" fill="#1e1e1e" text-anchor="middle" textLength="21.80" lengthAdjust="spacingAndGlyphs" >Group</text>
<rect x="601.20" y="425.70" width="14.60" height="5.80" fill="#abcaea" stroke="#5c5c5c" stroke-width="1.0" />
<rect x="601.20" y="435.90" width="14.60" height="5.80" fill="#e5b28e" stroke="#5c5c5c" stroke-width="1.0" />
<circle cx="608.50" cy="449.00" r="1.90" fill="#8a8a8a" stroke="none" stroke-width="0" />
<circle cx="608.50" cy="458.90" r="1.90" fill="#707070" stroke="none" stroke-width="0" />
<text x="620.80" y="431.10" font-size="7.2" fill="#1e1e1e" textLength="25.60" lengthAdjust="spacingAndGlyphs" >Shuffled</text>
<text x="620.80" y="441.30" font-size="7.2" fill="#1e1e1e" textLength="18.60" lengthAdjust="spacingAndGlyphs" >Origin</text>
<text x="620.80" y="451.20" font-size="7.2" fill="#1e1e1e" textLength="25.60" lengthAdjust="spacingAndGlyphs" >Shuffled</text>
<text x="620.80" y="461.10" font-size="7.2" fill="#1e1e1e" textLength="18.60" lengthAdjust="spacingAndGlyphs" >Origin</text>
</svg></body></html>
